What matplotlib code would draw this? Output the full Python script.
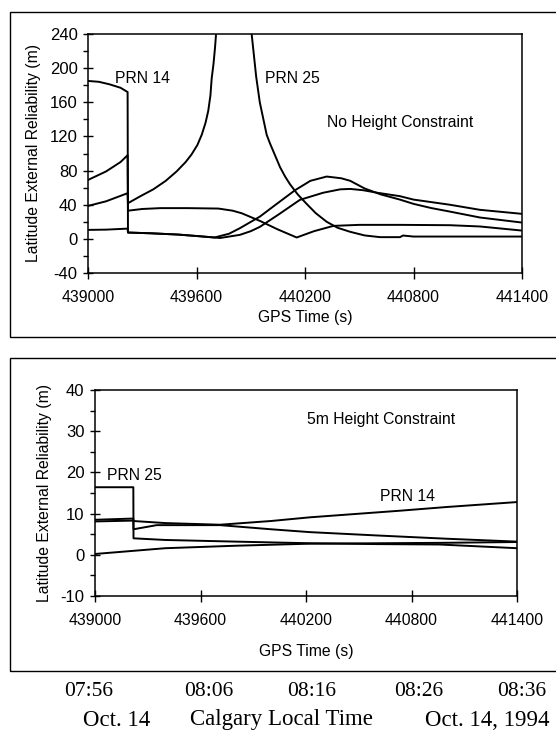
import matplotlib
matplotlib.use("Agg")
import matplotlib.pyplot as plt
from matplotlib.patches import Rectangle
from matplotlib.ticker import MultipleLocator

plt.rcParams["font.family"] = ["Liberation Sans", "DejaVu Sans"]
plt.rcParams["axes.unicode_minus"] = False

# --- top panel: no height constraint (GPS time s, latitude external reliability m) ---
top_a_t = [439000, 439060, 439120, 439180, 439219, 439221, 439350, 439500, 439620, 439730,
           439840, 439900, 439950, 440050, 440172, 440300, 440394, 440450, 440521, 440600,
           440725, 440800, 441000, 441168, 441400]
top_a_v = [185, 184, 181, 177, 172, 7.4, 6.5, 5, 3, 1,
           4.7, 9, 14, 28, 45.7, 54, 58, 58.5, 57, 54,
           50, 46, 40, 34, 29.3]

top_b_t = [439000, 439100, 439180, 439219, 439221, 439300, 439400, 439550, 439721, 439800,
           439850, 439951, 440050, 440154, 440250, 440357, 440500, 440725, 441000, 441168,
           441400]
top_b_v = [69, 79, 90, 98, 33, 35, 36, 36, 35.5, 33,
           30, 21, 11, 1.6, 9, 15.2, 16.4, 16.4, 16, 14.5,
           9.7]

# PRN 25 - goes off the top of the scale around 439710-439905
top_c_t = [439000, 439100, 439219, 439221, 439290, 439361, 439430, 439490, 439540, 439573,
           439605, 439629, 439650, 439665, 439677, 439684, 439694, 439702, 439710, 439725,
           439890, 439905, 439915, 439930, 439950, 439975, 439988, 440006, 440040, 440062,
           440090, 440117, 440160, 440209, 440260, 440320, 440380, 440449, 440530, 440615,
           440725, 440742, 440800, 441400]
top_c_v = [38.6, 44, 53.5, 41.8, 50, 58, 68, 79, 90, 99,
           110, 122, 136, 150, 168, 188, 205, 223, 245, 300,
           300, 240, 220, 190, 160, 135, 122, 112, 95, 84,
           73, 64, 52, 41, 30, 20, 13, 8.3, 4, 2,
           2, 3.9, 2.7, 2.7]

top_d_t = [439000, 439100, 439219, 439221, 439350, 439500, 439620, 439700, 439780, 439840,
           439950, 440025, 440145, 440230, 440320, 440400, 440450, 440530, 440620, 440725,
           440800, 440900, 441000, 441168, 441400]
top_d_v = [10.5, 10.8, 12, 7.4, 6.5, 5, 3, 1.6, 6, 12.5,
           26, 38, 57, 68, 73, 71, 68, 59, 52, 46,
           41, 36, 32, 25, 19.1]

# --- bottom panel: 5 m height constraint ---
bot_prn25_t = [439000, 439218, 439219, 439400, 439800, 440223, 440600, 440960, 441400]
bot_prn25_v = [16.4, 16.4, 4.0, 3.6, 3.2, 2.8, 2.6, 2.5, 1.6]

bot_prn14_t = [439000, 439218, 439219, 439400, 439711, 440000, 440223, 440734, 441000, 441400]
bot_prn14_v = [8.5, 8.8, 8.2, 7.7, 7.3, 8.2, 9.1, 10.7, 11.6, 12.8]

bot_f_t = [439000, 439218, 439219, 439351, 439711, 440000, 440223, 440600, 441000, 441400]
bot_f_v = [8.1, 8.3, 6.2, 7.2, 7.2, 6.2, 5.5, 4.7, 3.9, 3.2]

bot_g_t = [439000, 439400, 439800, 440223, 440600, 440960, 441400]
bot_g_v = [0.2, 1.6, 2.2, 2.7, 2.8, 2.9, 3.1]

x_ticks = [439000, 439600, 440200, 440800, 441400]
local_times = ["07:56", "08:06", "08:16", "08:26", "08:36"]

FS = 11.3
W, H = 556, 740


def fx(px):
    return px / W


def fy(py):
    return 1 - py / H


def style_axes(ax, ymin, ymax, ystep, yminor, xlabelpad):
    ax.set_xlim(439000, 441400)
    ax.set_ylim(ymin, ymax)
    ax.set_xticks(x_ticks)
    ax.set_xticklabels([str(t) for t in x_ticks], fontsize=FS)
    ax.yaxis.set_major_locator(MultipleLocator(ystep))
    ax.yaxis.set_minor_locator(MultipleLocator(yminor))
    ax.tick_params(axis="x", direction="inout", length=8, width=1, pad=8)
    ax.tick_params(axis="y", which="major", direction="inout", length=7, width=1, pad=4,
                   labelsize=FS + 0.7)
    ax.tick_params(axis="y", which="minor", direction="out", length=3.5, width=1)
    for s in ax.spines.values():
        s.set_linewidth(1.1)
    ax.set_xlabel("GPS Time (s)", fontsize=FS, labelpad=xlabelpad)
    ax.set_ylabel("Latitude External Reliability (m)", fontsize=FS, labelpad=6)


fig = plt.figure(figsize=(W / 100, H / 100), dpi=100)

# outer frames
for top, bot in [(12, 337), (358, 671)]:
    fig.add_artist(Rectangle((fx(10), fy(bot)), 1.2, (bot - top) / H,
                             transform=fig.transFigure, fill=False, lw=1.0, color="k"))

ax1 = fig.add_axes([fx(88), fy(273), (522 - 88) / W, (273 - 34) / H])
for t, v in [(top_a_t, top_a_v), (top_b_t, top_b_v), (top_c_t, top_c_v), (top_d_t, top_d_v)]:
    ax1.plot(t, v, color="k", lw=1.4)
style_axes(ax1, -40, 240, 40, 20, 4)
ax1.text(439149, 188, "PRN 14", fontsize=FS, va="center")
ax1.text(439979, 188, "PRN 25", fontsize=FS, va="center")
ax1.text(440322, 136, "No Height Constraint", fontsize=FS, va="center")

ax2 = fig.add_axes([fx(95), fy(596), (517 - 95) / W, (596 - 390) / H])
for t, v in [(bot_prn25_t, bot_prn25_v), (bot_prn14_t, bot_prn14_v),
             (bot_f_t, bot_f_v), (bot_g_t, bot_g_v)]:
    ax2.plot(t, v, color="k", lw=1.4)
style_axes(ax2, -10, 40, 10, 5, 12)
ax2.text(439067, 19.2, "PRN 25", fontsize=FS, va="center")
ax2.text(440206, 32.8, "5m Height Constraint", fontsize=FS, va="center")
ax2.text(440621, 14.2, "PRN 14", fontsize=FS, va="center")

# local time annotations under the lower frame
serif = ["Liberation Serif", "DejaVu Serif"]
for px, lab in zip([89, 209, 312, 419, 522], local_times):
    fig.text(fx(px), fy(692), lab, family=serif, fontsize=15.5, ha="center", va="center")
fig.text(fx(117), fy(720), "Oct. 14", family=serif, fontsize=16.5, ha="center", va="center")
fig.text(fx(281), fy(720), "Calgary Local Time", family=serif, fontsize=16.5,
         ha="center", va="center")
fig.text(fx(487), fy(720), "Oct. 14, 1994", family=serif, fontsize=16.5, ha="center",
         va="center")

fig.savefig("out.png", dpi=100)
